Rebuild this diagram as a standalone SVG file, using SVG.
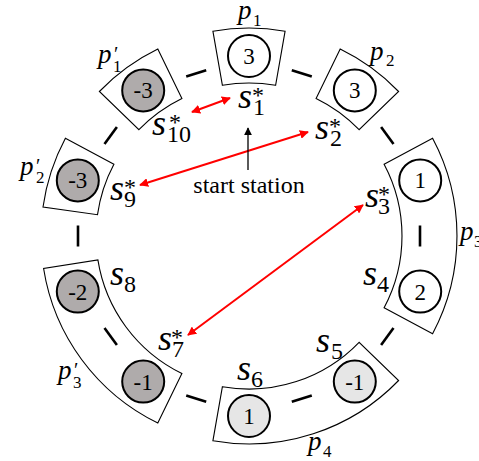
<svg xmlns="http://www.w3.org/2000/svg" width="479" height="461" viewBox="0 0 479 461">
<defs>
<style>
.plat{fill:none;stroke:#000;stroke-width:1.1}
.st{stroke:#000;stroke-width:2}
.w{fill:#fff}
.lg{fill:#e6e6e6}
.dg{fill:#afabab}
.num{font-size:23px;text-anchor:middle;fill:#000}
.dash{stroke:#000;stroke-width:2.6;fill:none}
.red{stroke:#f00;stroke-width:2;fill:none;marker-start:url(#rh);marker-end:url(#rh)}
.blk{stroke:#000;stroke-width:1.3;fill:none;marker-end:url(#bh)}
.mi{font-style:italic;fill:#000}
.rm{fill:#000}
.s{font-size:36px}
.p{font-size:27px}
.sub{font-size:24px}
.psub{font-size:17px}
.pr{font-size:20px}
</style>
<marker id="rh" viewBox="0 0 10 10" refX="9" refY="5" markerWidth="4.5" markerHeight="4.5" orient="auto-start-reverse" markerUnits="strokeWidth">
<path d="M0,0 L10,5 L0,10 Z" fill="#f00"/>
</marker>
<marker id="bh" viewBox="0 0 10 10" refX="9" refY="5" markerWidth="6" markerHeight="6" orient="auto" markerUnits="strokeWidth">
<path d="M0,0 L10,5 L0,10 Z" fill="#000"/>
</marker>
</defs>
<rect width="479" height="461" fill="#fff"/>
<g font-family="Liberation Serif, Times New Roman, serif">
<g id="platforms">
<path id="p1" class="plat" d="M212.9,31.2 A208,208 0 0 1 285.1,31.2 L275.6,85.3 A153,153 0 0 0 222.4,85.3 Z"/>
<path id="p2" class="plat" d="M340.2,49.1 A208,208 0 0 1 398.6,91.5 L359.1,129.7 A153,153 0 0 0 316.1,98.5 Z"/>
<path id="p3" class="plat" d="M432.6,138.3 A208,208 0 0 1 432.6,333.7 L384.1,307.8 A153,153 0 0 0 384.1,164.2 Z"/>
<path id="p4" class="plat" d="M398.6,380.5 A208,208 0 0 1 212.9,440.8 L222.4,386.7 A153,153 0 0 0 359.1,342.3 Z"/>
<path id="p3p" class="plat" d="M157.8,423.0 A208,208 0 0 1 43.6,268.5 L97.9,259.9 A153,153 0 0 0 181.9,373.5 Z"/>
<path id="p2p" class="plat" d="M43.0,207.0 A208,208 0 0 1 65.4,138.3 L113.9,164.2 A153,153 0 0 0 97.5,214.7 Z"/>
<path id="p1p" class="plat" d="M99.4,91.5 A208,208 0 0 1 157.8,49.1 L181.9,98.5 A153,153 0 0 0 138.9,129.7 Z"/>
</g>

<g id="connectors">
<line class="dash" x1="291.8" y1="70.2" x2="311.8" y2="76.6"/>
<line class="dash" x1="381.1" y1="127.0" x2="393.5" y2="144.0"/>
<line class="dash" x1="420" y1="225.5" x2="420" y2="246.5"/>
<line class="dash" x1="393.5" y1="328.0" x2="381.1" y2="345.0"/>
<line class="dash" x1="311.8" y1="395.4" x2="291.8" y2="401.8"/>
<line class="dash" x1="206.2" y1="401.8" x2="186.2" y2="395.4"/>
<line class="dash" x1="116.9" y1="345.0" x2="104.5" y2="328.0"/>
<line class="dash" x1="78" y1="246.5" x2="78" y2="225.5"/>
<line class="dash" x1="116.9" y1="127.0" x2="104.5" y2="144.0"/>
<line class="dash" x1="206.2" y1="70.2" x2="186.2" y2="76.6"/>
<line class="red" x1="192" y1="112" x2="230" y2="98"/>
<line class="red" x1="140" y1="185" x2="308" y2="132"/>
<line class="red" x1="188" y1="335" x2="363" y2="205"/>
<line class="blk" x1="248" y1="170" x2="248" y2="128"/>
</g>

<g id="s1"><circle class="st w" cx="249" cy="56" r="21"/><text class="num" x="249" y="64">3</text></g>
<g id="s2"><circle class="st w" cx="354.8" cy="90.4" r="21"/><text class="num" x="354.8" y="98.4">3</text></g>
<g id="s3"><circle class="st w" cx="420.2" cy="180.4" r="21"/><text class="num" x="420.2" y="188.4">1</text></g>
<g id="s4"><circle class="st w" cx="420.2" cy="291.6" r="21"/><text class="num" x="420.2" y="299.6">2</text></g>
<g id="s5"><circle class="st lg" cx="354.8" cy="381.6" r="21"/><text class="num" x="354.8" y="389.6">-1</text></g>
<g id="s6"><circle class="st lg" cx="249" cy="416" r="21"/><text class="num" x="249" y="424">1</text></g>
<g id="s7"><circle class="st dg" cx="143.2" cy="381.6" r="21"/><text class="num" x="143.2" y="389.6">-1</text></g>
<g id="s8"><circle class="st dg" cx="77.8" cy="291.6" r="21"/><text class="num" x="77.8" y="299.6">-2</text></g>
<g id="s9"><circle class="st dg" cx="77.8" cy="180.4" r="21"/><text class="num" x="77.8" y="188.4">-3</text></g>
<g id="s10"><circle class="st dg" cx="143.2" cy="90.4" r="21"/><text class="num" x="143.2" y="98.4">-3</text></g>

<g id="station-labels">
<text class="mi s" x="238" y="108">s</text><text class="rm sub" x="252" y="103">*</text><text class="rm sub" x="253" y="115">1</text>
<text class="mi s" x="315" y="139">s</text><text class="rm sub" x="329" y="134">*</text><text class="rm sub" x="330" y="146">2</text>
<text class="mi s" x="365" y="207">s</text><text class="rm sub" x="378" y="202">*</text><text class="rm sub" x="378" y="214">3</text>
<text class="mi s" x="363" y="285">s</text><text class="rm sub" x="377" y="292">4</text>
<text class="mi s" x="316" y="352">s</text><text class="rm sub" x="331" y="359">5</text>
<text class="mi s" x="237" y="380">s</text><text class="rm sub" x="251" y="387">6</text>
<text class="mi s" x="158" y="350">s</text><text class="rm sub" x="171" y="345">*</text><text class="rm sub" x="172" y="357">7</text>
<text class="mi s" x="110" y="285">s</text><text class="rm sub" x="124" y="292">8</text>
<text class="mi s" x="110" y="200">s</text><text class="rm sub" x="124" y="195">*</text><text class="rm sub" x="124" y="207">9</text>
<text class="mi s" x="152" y="135">s</text><text class="rm sub" x="169" y="130">*</text><text class="rm sub" x="167" y="142">10</text>
</g>

<g id="platform-labels">
<text class="mi p" x="238" y="19">p</text><text class="rm psub" x="253" y="26">1</text>
<text class="mi p" x="370" y="60">p</text><text class="rm psub" x="386" y="66">2</text>
<text class="mi p" x="460" y="240">p</text><text class="rm psub" x="474" y="247">3</text>
<text class="mi p" x="308" y="450">p</text><text class="rm psub" x="323" y="457">4</text>
<text class="mi p" x="98" y="63">p</text><text class="rm pr" x="114" y="61">′</text><text class="rm psub" x="113" y="72">1</text>
<text class="mi p" x="20" y="175">p</text><text class="rm pr" x="36" y="173">′</text><text class="rm psub" x="36" y="183">2</text>
<text class="mi p" x="58" y="379">p</text><text class="rm pr" x="74" y="377">′</text><text class="rm psub" x="73" y="388">3</text>
</g>

<text class="rm" x="249" y="193" font-size="24" text-anchor="middle">start station</text>
</g>
</svg>
